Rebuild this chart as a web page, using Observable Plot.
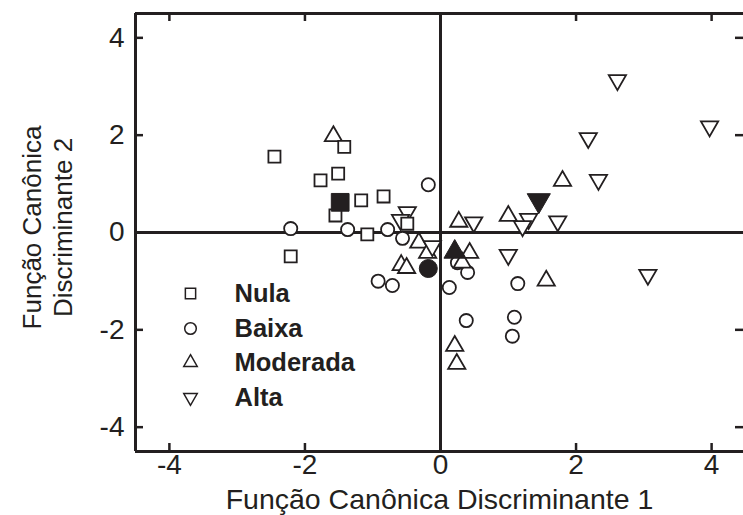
<!DOCTYPE html>
<html>
<head>
<meta charset="utf-8">
<script src="https://cdn.jsdelivr.net/npm/d3@7"></script>
<script src="https://cdn.jsdelivr.net/npm/@observablehq/plot@0.6"></script>
<style>
  html, body { margin: 0; padding: 0; background: #fff; }
  #chart { width: 743px; height: 515px; }
</style>
</head>
<body>
<div id="chart"></div>
<script>
// ---- data ----
const categories = ["Nula", "Baixa", "Moderada", "Alta"];
const tickValues = [-4, -2, 0, 2, 4];
const innerTicks = [-4, -2, 2, 4];

const nulaX = [-2.45, -1.42, -1.51, -1.77, -1.17, -0.84, -1.55, -1.08, -0.49, -2.21];
const nulaY = [1.56, 1.76, 1.21, 1.07, 0.66, 0.74, 0.35, -0.04, 0.18, -0.49];

const baixaX = [-0.18, -2.21, -1.37, -0.78, -0.56, -0.92, -0.71, 0.13, 0.25, 0.40, 0.38, 1.14, 1.09, 1.06];
const baixaY = [0.98, 0.08, 0.06, 0.06, -0.12, -1.00, -1.09, -1.13, -0.62, -0.82, -1.81, -1.05, -1.74, -2.13];

const moderadaX = [-1.58, -0.32, -0.19, -0.58, -0.50, 0.27, 0.43, 0.32, 0.21, 0.24, 1.00, 1.80, 1.56];
const moderadaY = [1.98, -0.21, -0.42, -0.67, -0.73, 0.22, -0.42, -0.62, -2.33, -2.70, 0.34, 1.06, -0.99];

const altaX = [-0.49, -0.59, -0.12, 0.49, 1.00, 1.30, 1.21, 1.73, 2.18, 2.33, 2.61, 3.97, 3.06];
const altaY = [0.42, 0.26, -0.28, 0.21, -0.46, 0.28, 0.13, 0.23, 1.94, 1.08, 3.13, 2.18, -0.87];

// group centroids (filled symbols), in category order
const centroidX = [-1.48, -0.18, 0.21, 1.45];
const centroidY = [0.62, -0.74, -0.40, 0.66];

// ---- helpers ----
const ink = "#231f20";
const pts = (xs, ys) => xs.map((x, i) => ({x, y: ys[i]}));
const triangleDown = {
  draw(context, size) {
    const y = Math.sqrt(size / (Math.sqrt(3) * 3));
    context.moveTo(0, y * 2);
    context.lineTo(-Math.sqrt(3) * y, -y);
    context.lineTo(Math.sqrt(3) * y, -y);
    context.closePath();
  }
};
const symbols = ["square", "circle", "triangle", triangleDown];
const openR = [6.8, 6.6, 6.4, 6.4];
const filledR = [10, 9, 8, 8.6];
const legendR = [5.8, 5.8, 5.0, 5.0];
const legendDy = [280, 315, 349, 384];

const W = 743, H = 515, mL = 135, mT = 13, mB = 64;
const innerW = W - mL;
const innerH = H - mT - mB;
const tick = 8;
const font = "'Liberation Sans', Arial, Helvetica, sans-serif";

const groups = [pts(nulaX, nulaY), pts(baixaX, baixaY), pts(moderadaX, moderadaY), pts(altaX, altaY)];
const drawOrder = [1, 2, 3, 0];

const legendMarks = categories.flatMap((c, i) => [
  Plot.dot([c], {frameAnchor: "top-left", dx: 55, dy: legendDy[i], symbol: symbols[i], r: legendR[i],
    stroke: ink, strokeWidth: 1.5, fill: "white"}),
  Plot.text([c], {frameAnchor: "top-left", dx: 99, dy: legendDy[i], text: d => d, textAnchor: "start",
    lineAnchor: "middle", fontWeight: "bold", fontSize: 25.5, fill: ink})
]);

const chart = Plot.plot({
  width: W,
  height: H,
  marginLeft: mL,
  marginRight: 0,
  marginTop: mT,
  marginBottom: mB,
  x: {domain: [-4.5, 4.5], range: [mL, mL + 610]},
  y: {domain: [-4.5, 4.5]},
  style: {fontFamily: font, color: ink, background: "#fff", overflow: "hidden"},
  marks: [
    // zero lines
    Plot.ruleX([0], {stroke: ink, strokeWidth: 3}),
    Plot.ruleY([0], {stroke: ink, strokeWidth: 3}),
    // frame (left, top, bottom)
    Plot.ruleX([-4.5], {stroke: ink, strokeWidth: 3}),
    Plot.ruleY([-4.5, 4.5], {stroke: ink, strokeWidth: 3}),
    // inward ticks
    Plot.tickX(innerTicks, {x: d => d, insetTop: innerH - tick, stroke: ink, strokeWidth: 2.5}),
    Plot.tickX(innerTicks, {x: d => d, insetBottom: innerH - tick, stroke: ink, strokeWidth: 2.5}),
    Plot.tickY(innerTicks, {y: d => d, insetRight: innerW - tick, stroke: ink, strokeWidth: 2.5}),
    Plot.tickY(innerTicks, {y: d => d, insetLeft: innerW - tick, stroke: ink, strokeWidth: 2.5}),
    // tick labels
    Plot.axisX(tickValues, {tickSize: 0, tickPadding: 3, fontSize: 28, tickFormat: d => String(d), label: null, fill: ink}),
    Plot.axisY(tickValues, {tickSize: 0, tickPadding: 11, fontSize: 28, tickFormat: d => String(d), label: null, fill: ink}),
    // axis titles
    Plot.text(["Função Canônica Discriminante 1"], {frameAnchor: "bottom", dy: 48, text: d => d, fontSize: 28.5,
      textAnchor: "middle", lineAnchor: "middle", fill: ink}),
    Plot.text(["Função Canônica\nDiscriminante 2"], {frameAnchor: "left", dx: -89, dy: -5, rotate: -90, text: d => d,
      textAnchor: "middle", lineAnchor: "middle", fontSize: 26, lineHeight: 1.2, fill: ink}),
    // open markers
    ...drawOrder.map(i => Plot.dot(groups[i], {x: "x", y: "y", symbol: symbols[i], r: openR[i],
      stroke: ink, strokeWidth: 1.8, fill: "white"})),
    // centroids
    ...categories.map((c, i) => Plot.dot([{x: centroidX[i], y: centroidY[i]}], {x: "x", y: "y",
      symbol: symbols[i], r: filledR[i], stroke: ink, strokeWidth: 1, fill: ink})),
    // legend
    ...legendMarks
  ]
});
document.getElementById("chart").appendChild(chart);
</script>
</body>
</html>
